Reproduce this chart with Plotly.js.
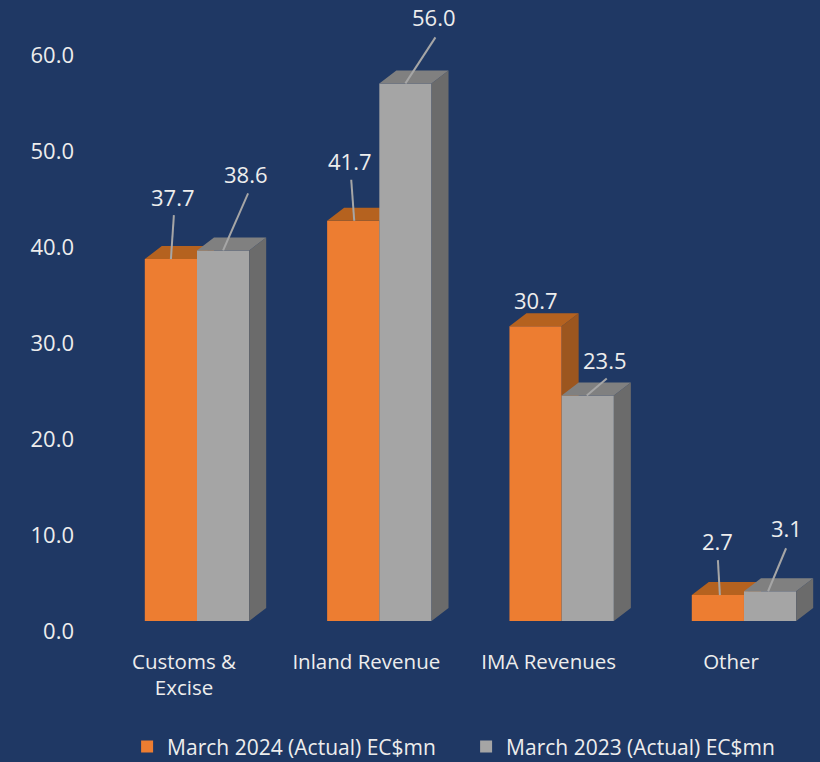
<!DOCTYPE html>
<html>
<head>
<meta charset="utf-8">
<script src="https://cdn.plot.ly/plotly-3.0.1.min.js"></script>
<style>html,body{margin:0;padding:0;background:#1F3864;}</style>
</head>
<body>
<div id="chart" style="width:820px;height:762px;"></div>
<script>
const categories = ["Customs &<br>Excise", "Inland Revenue", "IMA Revenues", "Other"];
const values2024 = [37.7, 41.7, 30.7, 2.7];
const values2023 = [38.6, 56.0, 23.5, 3.1];
const name2024 = "March 2024 (Actual) EC$mn";
const name2023 = "March 2023 (Actual) EC$mn";

const idx = categories.map((_, i) => i);
const pxPerCat = 182.33, pxPerVal = 9.6;
const barW = 52.2 / pxPerCat;
const depthX = 17 / pxPerCat, depthY = 13 / pxPerVal;
const floor = 1.04;
const fontFam = '"Open Sans", "Noto Sans", sans-serif';
const textColor = '#EDEDED';

function faces(vals, x0off, color, axes) {
  const topX = [], topY = [], sideX = [], sideY = [];
  vals.forEach((v, i) => {
    const a = i + x0off, b = a + barW, t = floor + v;
    topX.push(a, b, b + depthX, a + depthX, a, null);
    topY.push(t, t, t + depthY, t + depthY, t, null);
    sideX.push(b, b + depthX, b + depthX, b, b, null);
    sideY.push(floor, floor + depthY, t + depthY, t, floor, null);
  });
  const mk = (x, y, c) => Object.assign({
    type: 'scatter', mode: 'lines', x, y, fill: 'toself', fillcolor: c,
    line: {width: 0, color: c}, showlegend: false, hoverinfo: 'skip'
  }, axes);
  return [mk(sideX, sideY, color.side), mk(topX, topY, color.top)];
}

const orange = {front: '#ED7D31', top: '#B5621F', side: '#9C561F'};
const gray = {front: '#A5A5A5', top: '#808080', side: '#6B6B6B'};
const ax2 = {xaxis: 'x2', yaxis: 'y2'};

// label centre, relative to the middle of the bar's top edge (px)
const off2024 = [[2, -62], [-3, -60], [0, -26], [0, -54]];
const off2023 = [[23, -76], [29, -66], [17, -35], [16, -63]];
// leader line: start dx, end dx, end dy relative to the same point (px); null = no leader
const lead2024 = [[0, 3, -44], [1, -2, -41], null, [2, 0, -35]];
const lead2023 = [[0, 25, -57], [0, 30, -46], [-1, 19, -17], [-2, 16, -43]];

function leaders(vals, ox, lead) {
  const x = [], y = [];
  vals.forEach((v, i) => {
    const l = lead[i];
    if (!l) return;
    const cx = i + ox, t = floor + v;
    x.push(cx + l[0] / pxPerCat, cx + l[1] / pxPerCat, null);
    y.push(t, t - l[2] / pxPerVal, null);
  });
  return Object.assign({
    type: 'scatter', mode: 'lines', x, y, line: {color: '#A6A6A6', width: 2},
    showlegend: false, hoverinfo: 'skip'
  }, ax2);
}

const traces = [
  {type: 'bar', name: name2024, x: idx, y: values2024, base: floor, width: barW, offset: -barW,
   marker: {color: orange.front, line: {width: 0}}, hoverinfo: 'skip'},
  ...faces(values2024, -barW, orange, {}),
  Object.assign({type: 'bar', name: name2023, x: idx, y: values2023, base: floor, width: barW, offset: 0,
   marker: {color: gray.front, line: {width: 0}}, hoverinfo: 'skip'}, ax2),
  ...faces(values2023, 0, gray, ax2),
  leaders(values2024, -barW / 2, lead2024),
  leaders(values2023, barW / 2, lead2023)
];

const labelFont = {family: fontFam, size: 22, color: textColor};
function ann(v, i, ox, o) {
  return {
    x: i + ox, y: floor + v, xref: 'x', yref: 'y', text: v.toFixed(1), showarrow: false,
    xanchor: 'center', yanchor: 'middle', xshift: o[0], yshift: -o[1], font: labelFont, borderpad: 0
  };
}
const annotations = [
  ...values2024.map((v, i) => ann(v, i, -barW / 2, off2024[i])),
  ...values2023.map((v, i) => ann(v, i, barW / 2, off2023[i]))
];

const yRange = [0, 626 / pxPerVal];
const xRange = [(80 - 197) / pxPerCat, (820 - 197) / pxPerCat];
const layout = {
  width: 820, height: 762,
  paper_bgcolor: '#1F3864', plot_bgcolor: '#1F3864',
  margin: {l: 80, r: 0, t: 5, b: 131, pad: 0},
  showlegend: true,
  font: {family: fontFam, size: 22, color: textColor},
  xaxis: {range: xRange, tickmode: 'array', tickvals: idx.map(i => i - 13 / pxPerCat), ticktext: categories,
          showgrid: false, zeroline: false, showline: false, ticks: '', fixedrange: true,
          tickfont: {family: fontFam, size: 20.5, color: textColor}, ticklabelstandoff: 16, automargin: false},
  yaxis: {range: yRange, tickmode: 'array', tickvals: [0, 10, 20, 30, 40, 50, 60],
          tickformat: '.1f', showgrid: false, zeroline: false, showline: false, ticks: '', fixedrange: true,
          tickfont: {family: fontFam, size: 22, color: textColor}, ticklabelstandoff: 5, automargin: false},
  xaxis2: {overlaying: 'x', range: xRange, visible: false, fixedrange: true},
  yaxis2: {overlaying: 'y', range: yRange, visible: false, fixedrange: true},
  legend: {orientation: 'h', xref: 'container', yref: 'container', x: 0.155, xanchor: 'left', y: 0.02, yanchor: 'middle',
           entrywidth: 294, entrywidthmode: 'pixels',
           font: {family: fontFam, size: 21, color: textColor}, bgcolor: 'rgba(0,0,0,0)', traceorder: 'normal',
           itemclick: false, itemdoubleclick: false},
  annotations
};
Plotly.newPlot('chart', traces, layout, {displayModeBar: false});
</script>
</body>
</html>
